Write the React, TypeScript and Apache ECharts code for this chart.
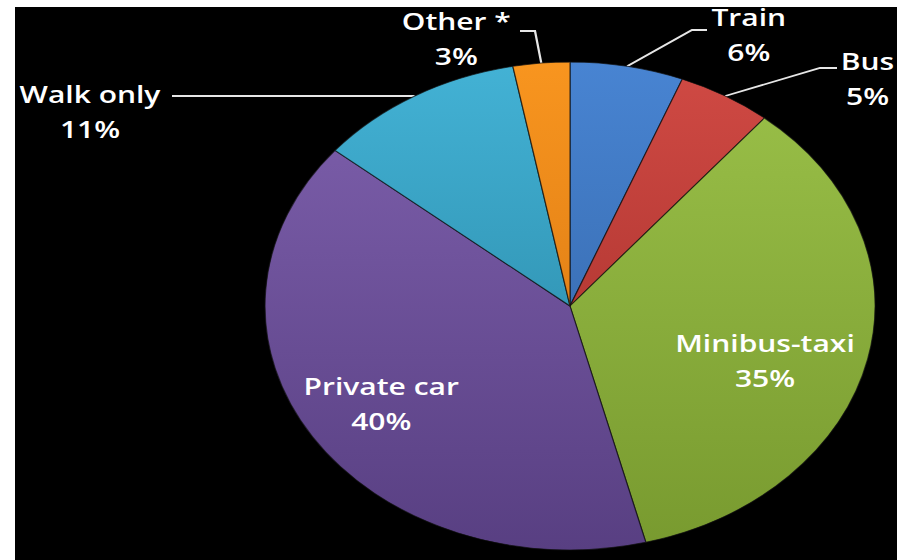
import React, { useEffect, useRef } from "react";
import * as echarts from "echarts";

// ---- data ----
const categories = ["Train", "Bus", "Minibus-taxi", "Private car", "Walk only", "Other *"];
const shares = [6, 5, 35, 40, 11, 3];

// ---- styles ----
const sliceTop = ["#4884d2", "#d04a44", "#9bc149", "#7f61ae", "#43b2d5", "#f8951f"];
const sliceBottom = ["#2f5f9e", "#9e2a26", "#789a2f", "#583f82", "#247f9c", "#d0700f"];
const insideLabel = [false, false, true, true, false, false];

// ---- layout (chart coordinates before the horizontal 1.25 stretch) ----
const STRETCH = 1.25;
const PIE_CX = 456;
const PIE_CY = 306;
const PIE_R = 244;
const labelCenters: number[][] = [
  [599, 34],
  [694, 78],
  [612, 360],
  [305, 403],
  [72, 111],
  [365, 38],
];
const leaderBends: (number[][] | null)[] = [
  [[553.6, 30], [565.6, 30]],
  [[656, 68], [669.6, 68]],
  null,
  null,
  [[137.6, 96], [137.6, 96]],
  [[428, 31], [416, 31]],
];

function anchorPoint(i: number): number[] {
  const total = shares.reduce((a, b) => a + b, 0);
  let before = 0;
  for (let k = 0; k < i; k++) before += shares[k];
  const frac = (before + shares[i] / 2) / total;
  const t = frac * Math.PI * 2;
  return [PIE_CX + PIE_R * Math.sin(t), PIE_CY - PIE_R * Math.cos(t)];
}

export default function App() {
  const ref = useRef<HTMLDivElement>(null);

  useEffect(() => {
    if (!ref.current) return;
    const chart = echarts.init(ref.current, undefined, { renderer: "svg" });

    const data = categories.map((name, i) => ({
      name,
      value: shares[i],
      itemStyle: {
        color: {
          type: "linear",
          x: 0,
          y: PIE_CY - PIE_R,
          x2: 0,
          y2: PIE_CY + PIE_R,
          global: true,
          colorStops: [
            { offset: 0, color: sliceTop[i] },
            { offset: 1, color: sliceBottom[i] },
          ],
        },
      },
      label: insideLabel[i] ? { position: "inside" } : { position: "outside" },
      labelLine: { show: !insideLabel[i] },
    }));

    chart.setOption({
      animation: false,
      series: [
        {
          type: "pie",
          center: [PIE_CX, PIE_CY],
          radius: [0, PIE_R],
          startAngle: 90,
          clockwise: true,
          avoidLabelOverlap: false,
          itemStyle: {
            borderColor: "rgba(15,15,15,0.7)",
            borderWidth: 1,
          },
          label: {
            show: true,
            formatter: "{b}\n{c}%",
            color: "#ffffff",
            fontFamily: "'Open Sans', sans-serif",
            fontWeight: 600,
            fontSize: 24,
            lineHeight: 35,
            align: "center",
          },
          labelLine: {
            show: true,
            length: 0,
            length2: 0,
            lineStyle: { color: "#e6e6e6", width: 1.8 },
          },
          emphasis: { disabled: true },
          labelLayout: (params: any) => {
            const i = params.dataIndex;
            const c = labelCenters[i];
            const res: any = {
              x: c[0],
              y: c[1],
              align: "center",
              verticalAlign: "middle",
            };
            const bends = leaderBends[i];
            if (bends) {
              res.labelLinePoints = [anchorPoint(i), bends[0], bends[1]];
            }
            return res;
          },
          data,
        },
      ],
    });

    return () => chart.dispose();
  }, []);

  return (
    <div
      style={{
        position: "absolute",
        left: 0,
        top: 0,
        width: 904,
        height: 560,
        background: "#ffffff",
        overflow: "hidden",
      }}
    >
      <div
        style={{
          position: "absolute",
          left: 15,
          top: 7,
          width: 882,
          height: 553,
          background: "#000000",
        }}
      />
      <div
        ref={ref}
        style={{
          position: "absolute",
          left: 0,
          top: 0,
          width: Math.round(904 / STRETCH),
          height: 560,
          transform: `scaleX(${STRETCH})`,
          transformOrigin: "0 0",
        }}
      />
    </div>
  );
}
